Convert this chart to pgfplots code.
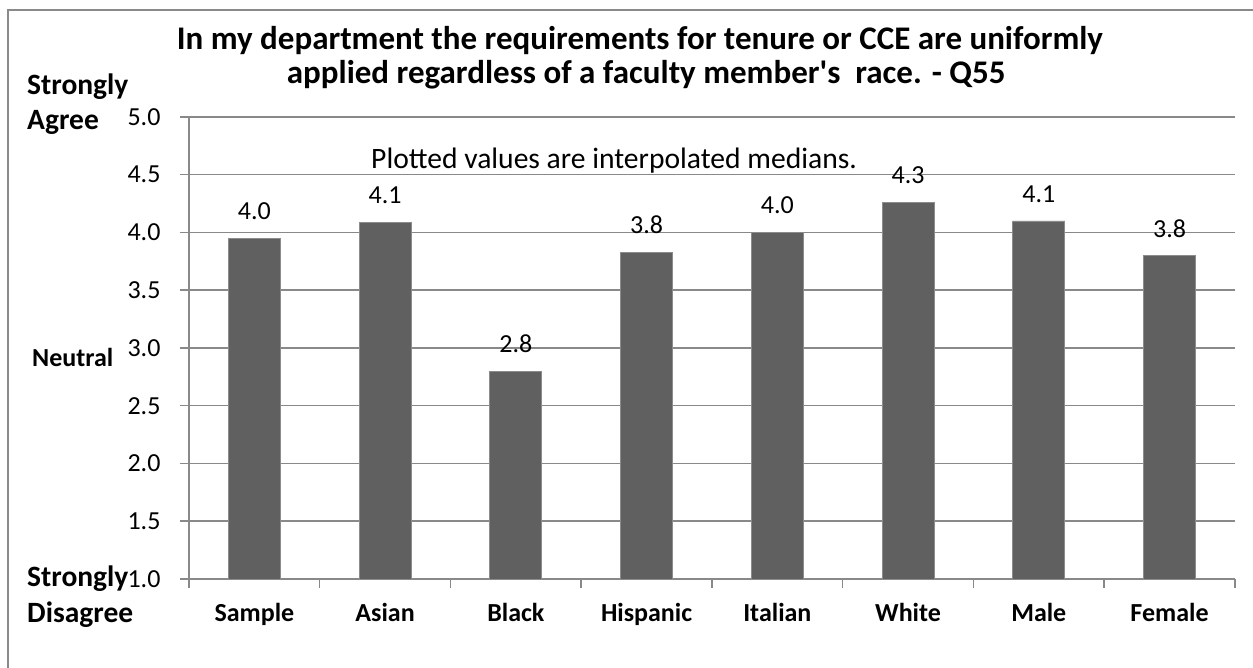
\documentclass[border=0pt]{standalone}
\usepackage{fontspec}
\setmainfont{Carlito}
\usepackage{pgfplots}
\pgfplotsset{compat=1.18}
\definecolor{barfill}{HTML}{606060}
\definecolor{barline}{HTML}{8C8C8C}
\definecolor{gridc}{HTML}{898989}
\definecolor{framec}{HTML}{8A8A8A}

\pgfplotstableread{
x y
0 3.95
1 4.09
2 2.80
3 3.83
4 4.00
5 4.26
6 4.10
7 3.80
}\datatable

\begin{document}
\begin{tikzpicture}[x=1bp,y=1bp]
\begin{axis}[
  at={(189bp,89bp)}, anchor=south west,
  scale only axis, width=1046bp, height=462bp,
  xmin=-0.5, xmax=7.5, ymin=1, ymax=5,
  axis x line*=bottom, axis y line*=left,
  axis line style={draw=gridc, line width=1.5bp, -},
  ytick={1,1.5,2,2.5,3,3.5,4,4.5,5},
  yticklabel style={font=\fontsize{26bp}{30bp}\selectfont, xshift=-16bp, /pgf/number format/.cd, fixed, fixed zerofill, precision=1, assume math mode=true},
  ymajorgrids, major grid style={draw=gridc, line width=1.5bp},
  xtick={-0.5,0.5,1.5,2.5,3.5,4.5,5.5,6.5,7.5},
  xticklabels={},
  extra x ticks={0,1,2,3,4,5,6,7},
  extra x tick labels={Sample,Asian,Black,Hispanic,Italian,White,Male,Female},
  extra x tick style={major tick length=0pt, tick label style={font=\bfseries\fontsize{26bp}{30bp}\selectfont, anchor=base, yshift=-43bp}},
  tick align=outside, major tick length=9bp,
  tick style={draw=gridc, line width=1.5bp},
  ybar, bar width=52bp,
  nodes near coords,
  nodes near coords style={font=\fontsize{26bp}{30bp}\selectfont, anchor=base, yshift=18.5bp, /pgf/number format/.cd, fixed, fixed zerofill, precision=1, assume math mode=true},
  clip=false,
]
\addplot[fill=barfill, draw=barline, line width=0.8bp] table[x=x, y=y] {\datatable};
\end{axis}
\draw[framec, line width=2bp] (8,0) -- (8,658) -- (1253,658);
\node[anchor=base west, inner sep=0pt, font=\bfseries\fontsize{33bp}{38bp}\selectfont] at (176.7,618) {In my department the requirements for tenure or CCE are uniformly};
\node[anchor=base west, inner sep=0pt, font=\bfseries\fontsize{33bp}{38bp}\selectfont] at (286.7,584.5) {applied regardless of a faculty member\textquotesingle s\ \ race. - Q55};
\node[anchor=base west, inner sep=0pt, font=\fontsize{29.6bp}{34bp}\selectfont] at (371,499) {Plotted values are interpolated medians.};
\node[anchor=base west, inner sep=0pt, font=\bfseries\fontsize{29.5bp}{34bp}\selectfont] at (27,573) {Strongly};
\node[anchor=base west, inner sep=0pt, font=\bfseries\fontsize{29.5bp}{34bp}\selectfont] at (27,538) {Agree};
\node[anchor=base west, inner sep=0pt, font=\bfseries\fontsize{26bp}{32bp}\selectfont] at (32,301.3) {Neutral};
\node[anchor=base west, inner sep=0pt, font=\bfseries\fontsize{29.5bp}{34bp}\selectfont] at (27,81) {Strongly};
\node[anchor=base west, inner sep=0pt, font=\bfseries\fontsize{29.5bp}{34bp}\selectfont] at (27,45) {Disagree};
\pgfresetboundingbox
\useasboundingbox (0,0) rectangle (1253,668);
\end{tikzpicture}
\end{document}
